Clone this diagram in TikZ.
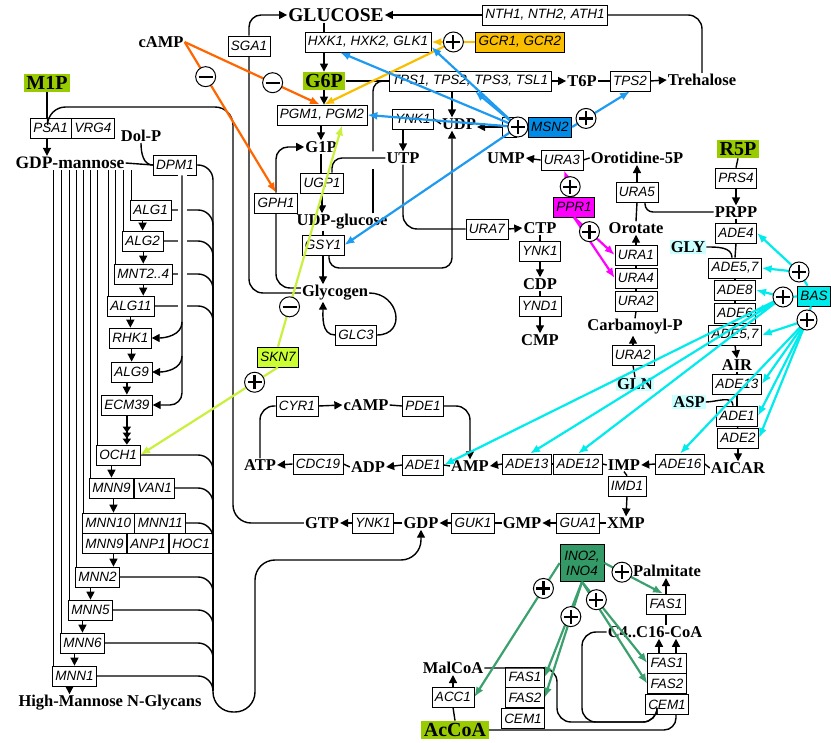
\documentclass[tikz,border=0pt]{standalone}
\usepackage{fontspec}
\setmainfont{Liberation Serif}
\newfontfamily\enzfont{Liberation Sans}
\usetikzlibrary{arrows.meta,positioning,calc}
\definecolor{keygreen}{RGB}{153,204,0}
\definecolor{gcryellow}{RGB}{250,190,0}
\definecolor{msnblue}{RGB}{0,140,230}
\definecolor{msnline}{RGB}{30,155,240}
\definecolor{camporange}{RGB}{255,102,0}
\definecolor{sknlime}{RGB}{204,255,51}
\definecolor{sknline}{RGB}{200,240,60}
\definecolor{pprmag}{RGB}{255,0,255}
\definecolor{bascyan}{RGB}{0,235,235}
\definecolor{aacyan}{RGB}{204,255,255}
\definecolor{inogreen}{RGB}{51,153,102}
\definecolor{inoline}{RGB}{60,160,110}
\tikzset{
  >={Triangle[length=8pt,width=8pt]},
  rx/.style={line width=1.4pt},
  enz/.style={draw,fill=white,line width=0.7pt,inner xsep=3pt,inner ysep=0pt,
    minimum height=20pt,font=\fontsize{13.5}{15}\enzfont\itshape},
  met/.style={inner sep=1pt,font=\fontsize{16.5}{18}\selectfont\bfseries},
  key/.style={fill=keygreen,inner sep=2.5pt,font=\fontsize{20}{22}\selectfont\bfseries},
  aa/.style={met,fill=aacyan},
  tf/.style={enz,fill=#1},
  reg/.style={line width=2.2pt,draw=#1,-{Latex[length=10pt,width=8pt]}},
  act/.style={circle,draw,fill=white,line width=1pt,minimum size=20pt,inner sep=0pt,
    path picture={\draw[line width=2.2pt]
      ([xshift=-7pt]path picture bounding box.center) -- ([xshift=7pt]path picture bounding box.center)
      ([yshift=-7pt]path picture bounding box.center) -- ([yshift=7pt]path picture bounding box.center);}},
  inh/.style={circle,draw,fill=white,line width=1pt,minimum size=20pt,inner sep=0pt,
    path picture={\draw[line width=2.2pt]
      ([xshift=-7pt]path picture bounding box.center) -- ([xshift=7pt]path picture bounding box.center);}},
}
\begin{document}
\begin{tikzpicture}[x=1pt,y=-1pt]
\useasboundingbox (0,0) rectangle (831,743);

% carbohydrates
\node[met,font=\fontsize{19.5}{21}\selectfont\bfseries] (glucose) at (336,15) {GLUCOSE};
\node[enz] (nth) at (545,15) {NTH1, NTH2, ATH1};
\node[enz] (hxk) at (368,42) {HXK1, HXK2, GLK1};
\node[tf=gcryellow] (gcr) at (520,42) {GCR1, GCR2};
\node[met] (camp1) at (161,42) {cAMP};
\node[enz] (sga1) at (249,46) {SGA1};
\node[key] (g6p) at (324,81) {G6P};
\node[enz] (tps) at (470,81) {TPS1, TPS2, TPS3, TSL1};
\node[met] (t6p) at (582,81) {T6P};
\node[enz] (tps2) at (630,81) {TPS2};
\node[met] (trehalose) at (702,80) {Trehalose};
\node[enz] (pgm) at (322,115) {PGM1, PGM2};
\node[met] (g1p) at (321,147) {G1P};
\node[enz] (ugp1) at (322,183) {UGP1};
\node[enz] (gph1) at (276,203) {GPH1};
\node[met] (udpglc) at (342,222) {UDP-glucose};
\node[enz] (gsy1) at (323,245) {GSY1};
\node[met] (glycogen) at (335,293) {Glycogen};
\node[enz] (glc3) at (356,335) {GLC3};

% pyrimidines
\node[enz] (ynk1a) at (413,119) {YNK1};
\node[met] (udp) at (459,124) {UDP};
\node[met] (utp) at (403,158) {UTP};
\node[enz,minimum width=14pt] (ura6) at (509,127) {};
\node[tf=msnblue] (msn2) at (550,127) {MSN2};
\node[met] (ump) at (506,158) {UMP};
\node[enz] (ura3) at (562,160) {URA3};
\node[met] (orotidine) at (637,158) {Orotidine-5P};
\node[enz] (ura7) at (487,229) {URA7};
\node[met] (ctp) at (540,228) {CTP};
\node[enz] (ynk1b) at (540,251) {YNK1};
\node[met] (cdp) at (540,284) {CDP};
\node[enz] (ynd1) at (540,306) {YND1};
\node[met] (cmp) at (540,340) {CMP};
\node[tf=pprmag] (ppr1) at (574,207) {PPR1};
\node[enz] (ura5) at (637,192) {URA5};
\node[met] (orotate) at (636,228) {Orotate};
\node[enz] (ura1) at (636,255) {URA1};
\node[enz] (ura4) at (636,278) {URA4};
\node[enz] (ura2a) at (636,301) {URA2};
\node[met] (carbp) at (635,327) {Carbamoyl-P};
\node[enz] (ura2b) at (633,355) {URA2};
\node[aa] (gln) at (635,384) {GLN};

% purines
\node[key] (r5p) at (738,149) {R5P};
\node[enz] (prs4) at (736,178) {PRS4};
\node[met] (prpp) at (736,212) {PRPP};
\node[enz] (ade4) at (736,233) {ADE4};
\node[aa] (gly) at (688,247) {GLY};
\node[enz] (ade57a) at (735,268) {ADE5,7};
\node[enz] (ade8) at (735,290) {ADE8};
\node[enz] (ade6) at (735,313) {ADE6};
\node[enz] (ade57b) at (735,335) {ADE5,7};
\node[met] (air) at (737,365) {AIR};
\node[enz] (ade13a) at (737,384) {ADE13};
\node[aa] (asp) at (689,402) {ASP};
\node[enz] (ade1a) at (737,416) {ADE1};
\node[enz] (ade2) at (738,438) {ADE2};
\node[met] (aicar) at (738,468) {AICAR};
\node[tf=bascyan] (bas) at (814,296) {BAS};
\node[enz] (ade16) at (680,464) {ADE16};
\node[met] (imp) at (624,465) {IMP};
\node[enz] (ade12) at (578,464) {ADE12};
\node[enz] (ade13b) at (527,464) {ADE13};
\node[met] (amp) at (470,466) {AMP};
\node[enz] (ade1b) at (423,465) {ADE1};
\node[met] (adp) at (368,467) {ADP};
\node[enz] (cdc19) at (318,464) {CDC19};
\node[met] (atp) at (260,465) {ATP};
\node[enz] (cyr1) at (297,406) {CYR1};
\node[met] (camp2) at (366,405) {cAMP};
\node[enz] (pde1) at (423,406) {PDE1};
\node[enz] (imd1) at (627,486) {IMD1};
\node[met] (xmp) at (626,523) {XMP};
\node[enz] (gua1) at (578,523) {GUA1};
\node[met] (gmp) at (522,523) {GMP};
\node[enz] (guk1) at (473,523) {GUK1};
\node[met] (gdp) at (421,523) {GDP};
\node[enz] (ynk1c) at (373,523) {YNK1};
\node[met] (gtp) at (322,523) {GTP};
\node[tf=sknlime] (skn7) at (278,357) {SKN7};

% mannosylation
\node[key] (m1p) at (47,83) {M1P};
\node[enz,anchor=north west] (psa1) at (30,118) {PSA1};
\node[enz,anchor=west] (vrg4) at (psa1.east) {VRG4};
\node[met,font=\fontsize{17.5}{19}\selectfont\bfseries] (gdpman) at (70,163) {GDP-mannose};
\node[met] (dolp) at (141,136) {Dol-P};
\node[enz] (dpm1) at (175,165) {DPM1};
\node[enz,anchor=west] (alg1) at (130,210) {ALG1};
\node[enz,anchor=west] (alg2) at (122,241) {ALG2};
\node[enz,anchor=west] (mnt) at (114,274) {MNT2..4};
\node[enz,anchor=west] (alg11) at (107,306) {ALG11};
\node[enz,anchor=west] (rhk1) at (109,338) {RHK1};
\node[enz,anchor=west] (alg9) at (111,372) {ALG9};
\node[enz,anchor=west] (ecm39) at (101,405) {ECM39};
\node[enz,anchor=west] (och1) at (96,455) {OCH1};
\node[enz,anchor=west] (mnn9a) at (89,488) {MNN9};
\node[enz,anchor=west] (van1) at (mnn9a.east) {VAN1};
\node[enz,anchor=west] (mnn10) at (82,523) {MNN10};
\node[enz,anchor=west] (mnn11) at (mnn10.east) {MNN11};
\node[enz,anchor=north west] (mnn9b) at (mnn10.south west) {MNN9};
\node[enz,anchor=west] (anp1) at (mnn9b.east) {ANP1};
\node[enz,anchor=west] (hoc1) at (anp1.east) {HOC1};
\node[enz,anchor=west] (mnn2) at (75,577) {MNN2};
\node[enz,anchor=west] (mnn5) at (68,610) {MNN5};
\node[enz,anchor=west] (mnn6) at (60,643) {MNN6};
\node[enz,anchor=west] (mnn1) at (52,676) {MNN1};
\node[met] (hmng) at (110,703) {High-Mannose N-Glycans};

% fatty acids
\node[tf=inogreen,align=center,minimum height=37pt,minimum width=44pt] (ino) at (582,563) {INO2,\\INO4};
\node[met] (palm) at (667,571) {Palmitate};
\node[enz] (fas1a) at (666,604) {FAS1};
\node[met] (c16coa) at (655,632) {C4..C16-CoA};
\node[enz] (fas1b) at (667,663) {FAS1};
\node[enz,anchor=north] (fas2b) at (fas1b.south) {FAS2};
\node[enz,anchor=north] (cem1b) at (fas2b.south) {CEM1};
\node[met] (malcoa) at (453,668) {MalCoA};
\node[enz] (acc1) at (453,697) {ACC1};
\node[key] (accoa) at (455,730) {AcCoA};
\node[enz] (fas1c) at (525,677) {FAS1};
\node[enz,anchor=north] (fas2c) at (fas1c.south) {FAS2};
\node[enz,anchor=north] (cem1c) at ([xshift=-2pt]fas2c.south) {CEM1};

% glucose, trehalose, glycogen
\draw[rx] (glucose.south -| g6p) -- (hxk.north -| g6p);
\draw[rx,->] (hxk.south -| g6p) -- (g6p.north);
\draw[rx,->] (g6p.south) -- (pgm.north -| g6p);
\draw[rx,->] (pgm.south -| g1p) -- (g1p.north);
\draw[rx] (g1p.south) -- (ugp1.north -| g1p);
\draw[rx,->] (ugp1.south) -- (ugp1.south |- udpglc.north);
\draw[rx] (gsy1.north |- udpglc.south) -- (gsy1.north);
\draw[rx,->] (gsy1.south) -- (gsy1.south |- glycogen.north);
\draw[rx] (g6p.east) -- (tps.west);
\draw[rx,->] (tps.east) -- (t6p.west);
\draw[rx] (t6p.east) -- (tps2.west);
\draw[rx,->] (tps2.east) -- (trehalose.west);
\draw[rx,rounded corners=14pt] (trehalose.north) |- (nth.east);
\draw[rx,->] (nth.west) -- (glucose.east);
\draw[rx] ([xshift=31pt]udpglc.north) -- ++(0,-44);
\draw[rx,rounded corners=10pt] ([xshift=31pt]udpglc.north) ++(0,-62) |- (tps.west);
\draw[rx,rounded corners=10pt] (utp.west) -| ([xshift=10pt]ugp1.north);
\draw[rx,rounded corners=14pt] (glycogen.west) -| (sga1.south);
\draw[rx,->,rounded corners=12pt] (sga1.north) |- (glucose.west);
\draw[rx,rounded corners=14pt] ([yshift=5pt]glycogen.west) -| (gph1.south);
\draw[rx,->,rounded corners=12pt] (gph1.north) |- (g1p.west);
\draw[rx] (glycogen.east) to[out=0,in=0,looseness=1.8] (glc3.east);
\draw[rx,->] (glc3.west) to[out=180,in=-90] ([xshift=-12pt]glycogen.south);

% pyrimidines
\coordinate (udpin) at (452,268);
\draw[rx,->] ([xshift=-7pt]udp.north |- tps.south) -- ([xshift=-7pt]udp.north);
\draw[rx,->,rounded corners=10pt] ([xshift=6pt]gsy1.south) |- (udpin) -- ([xshift=-7pt]udp.south);
\draw[rx] (udp.west) -- (ynk1a.east);
\draw[rx,->] (utp.north |- ynk1a.south) -- (utp.north);
\draw[rx,rounded corners=14pt] (utp.south) |- (ura7.west);
\draw[rx,->] (ura7.east) -- (ctp.west);
\draw[rx] (ctp.south) -- (ynk1b.north);
\draw[rx,->] (ynk1b.south) -- (cdp.north);
\draw[rx] (cdp.south) -- (ynd1.north);
\draw[rx,->] (ynd1.south) -- (cmp.north);
\draw[rx,->] (ura6.west) -- (ura6.west -| udp.east);
\draw[rx,->] (ura3.west) -- (ump.east);
\draw[rx] (orotidine.west) -- (ura3.east);
\draw[rx,->] (ura5.north) -- (orotidine.south);
\draw[rx] (orotate.north) -- (ura5.south);
\draw[rx,rounded corners=8pt] (prpp.west) -| ([xshift=8pt]ura5.south);
\draw[rx,->] (ura1.north) -- (orotate.south);
\draw[rx] (ura1.south) -- (ura4.north);
\draw[rx] (ura4.south) -- (ura2a.north);
\draw[rx] (ura2a.south) -- (carbp.north);
\draw[rx,->] (ura2b.north) -- (ura2b.north |- carbp.south);
\draw[rx] (gln.north) -- (ura2b.south);

% purines
\draw[rx] (r5p.south) -- (prs4.north);
\draw[rx,->] (prs4.south) -- (prpp.north);
\draw[rx] (prpp.south) -- (ade4.north);
\draw[rx] (ade4.south) -- (ade57a.north);
\draw[rx] (ade57a.south) -- (ade8.north);
\draw[rx] (ade8.south) -- (ade6.north);
\draw[rx] (ade6.south) -- (ade57b.north);
\draw[rx,->] (ade57b.south) -- (air.north);
\draw[rx] (air.south) -- (ade13a.north);
\draw[rx] (ade13a.south) -- (ade1a.north);
\draw[rx] (ade1a.south) -- (ade2.north);
\draw[rx,->] (ade2.south) -- (aicar.north);
\draw[rx] (gly.east) to[out=0,in=90] ([xshift=-3pt]ade57a.north);
\draw[rx] (asp.east) to[out=0,in=90] ([xshift=-4pt]ade1a.north);
\draw[rx] (aicar.west) -- (ade16.east);
\draw[rx,->] (ade16.west) -- (imp.east);
\draw[rx] (imp.west) -- (ade12.east);
\draw[rx] (ade12.west) -- (ade13b.east);
\draw[rx,->] (ade13b.west) -- (amp.east);
\draw[rx] (amp.west) -- (ade1b.east);
\draw[rx,->] (ade1b.west) -- (adp.east);
\draw[rx] (adp.west) -- (cdc19.east);
\draw[rx,->] (cdc19.west) -- (atp.east);
\draw[rx,rounded corners=14pt] (atp.north) |- (cyr1.west);
\draw[rx,->] (cyr1.east) -- (camp2.west);
\draw[rx] (camp2.east) -- (pde1.west);
\draw[rx,->,rounded corners=14pt] (pde1.east) -| (amp.north);
\draw[rx] (imp.south) -- (imd1.north);
\draw[rx,->] (imd1.south) -- (xmp.north);
\draw[rx] (xmp.west) -- (gua1.east);
\draw[rx,->] (gua1.west) -- (gmp.east);
\draw[rx] (gmp.west) -- (guk1.east);
\draw[rx,->] (guk1.west) -- (gdp.east);
\draw[rx] (gdp.west) -- (ynk1c.east);
\draw[rx,->] (ynk1c.west) -- (gtp.east);

% mannosylation
\coordinate (gtpturn) at (233,107);
\draw[rx,rounded corners=18pt] (gtp.west) -| (gtpturn) -| ([xshift=-3pt]psa1.north);
\draw[rx] (m1p.south) -- (m1p.south |- psa1.north);
\draw[rx,->] (m1p.south |- psa1.south) -- (m1p.south |- gdpman.north);
\draw[rx] (gdpman.east) -- (dpm1.west);
\draw[rx] (dolp.south) to[out=-90,in=180] (dpm1.west);
\foreach \b in {alg1,alg2,mnt,alg11,och1,mnn9a,mnn10,mnn2,mnn5,mnn6,mnn1}
  \draw[rx] ([xshift=1.5pt]\b.north west |- gdpman.south) -- ([xshift=1.5pt]\b.north west);
\draw[rx,->] (alg1.south -| alg2) -- (alg2.north);
\draw[rx,->] (alg2.south -| mnt) -- (mnt.north);
\draw[rx,->] (mnt.south) -- (mnt.south |- alg11.north);
\draw[rx,->] (alg11.south -| rhk1) -- (rhk1.north);
\draw[rx,->] (rhk1.south -| alg9) -- (alg9.north);
\draw[rx,->] (alg9.south -| ecm39) -- (ecm39.north);
\draw[rx,-{Triangle[length=6pt,width=8pt] Triangle[length=6pt,width=8pt] Triangle[length=6pt,width=8pt]}]
  (ecm39.south) -- (ecm39.south |- och1.north);
\draw[rx,->] (och1.south -| mnn9a) -- (mnn9a.north);
\draw[rx,->] ([xshift=2pt]mnn9a.south) -- ([xshift=2pt]mnn9a.south |- mnn10.north);
\draw[rx,->] ([xshift=9pt]mnn9b.south) -- ([xshift=9pt]mnn9b.south |- mnn2.north);
\draw[rx,->] (mnn2.south -| mnn5) -- (mnn5.north);
\draw[rx,->] (mnn5.south -| mnn6) -- (mnn6.north);
\draw[rx,->] (mnn6.south -| mnn1) -- (mnn1.north);
\draw[rx,->] ([xshift=-5pt]mnn1.south) -- ([xshift=-5pt]mnn1.south |- hmng.north);
\coordinate (gdpbus) at (213,690);
\coordinate (gdpturn) at (255,712);
\coordinate (gdpup) at (255,560);
\foreach \b in {dpm1,alg1,alg2,mnt,alg11,och1,van1,mnn11,mnn2,mnn5,mnn6,mnn1}
  \draw[rx,rounded corners=15pt] (\b.east) -| (gdpbus);
\draw[rx,->,rounded corners=20pt] (gdpbus) |- (gdpturn) -- (gdpup) -| (gdp.south);
\draw[white,line width=9pt] ([xshift=7pt]dpm1.south) -- ([xshift=7pt]dpm1.south |- rhk1.north);
\draw[rx,->,rounded corners=12pt] ([xshift=7pt]dpm1.south) |- (ecm39.east);
\draw[rx,->] ([xshift=7pt,yshift=16pt]dpm1.south |- rhk1.east) to[out=-90,in=0] (rhk1.east);
\draw[rx,->] ([xshift=7pt,yshift=16pt]dpm1.south |- alg9.east) to[out=-90,in=0] (alg9.east);

% fatty acids
\coordinate (elbl) at (582,722);
\coordinate (mcbl) at (557,722);
\draw[rx] (accoa.north) -- (acc1.south);
\draw[rx,->] (acc1.north) -- (malcoa.south);
\draw[rx,->] (fas1a.north) -- (fas1a.north |- palm.south);
\draw[rx] (c16coa.north -| fas1a) -- (fas1a.south);
\draw[rx,->] ([xshift=-8pt]fas1b.north) -- ([xshift=-8pt]fas1b.north |- c16coa.south);
\draw[rx,->] ([xshift=9pt]fas1b.north) -- ([xshift=9pt]fas1b.north |- c16coa.south);
\draw[rx,rounded corners=14pt] (c16coa.west) -| (elbl) -| ([xshift=-10pt]cem1b.south);
\draw[rx,rounded corners=14pt] (malcoa.east) -| (mcbl) -| ([xshift=-10pt]cem1b.south);
\draw[rx,rounded corners=12pt] (accoa.east) -| ([xshift=9pt]cem1b.south);

% regulation
\coordinate (mCampA) at ($(camp1.east)!0.23!(gph1.north)$);
\coordinate (mCampB) at ($(camp1.east)!0.65!([xshift=-2pt]pgm.north)$);
\draw[reg=camporange] (camp1.east) -- (gph1.north);
\draw[reg=camporange] (camp1.east) -- ([xshift=-2pt]pgm.north);
\coordinate (pGcr) at ($(gcr.west)!0.5!(hxk.east)$);
\draw[reg=gcryellow] (gcr.west) -- (hxk.east);
\draw[reg=gcryellow] (pGcr) -- ([xshift=2pt]pgm.north);
\coordinate (pMsn) at ([xshift=-10pt]msn2.west);
\coordinate (pMsnB) at ($(msn2.east)!0.24!(tps2.south)$);
\draw[reg=msnline] (pMsn) -- ([xshift=-28pt]hxk.south);
\draw[reg=msnline] (pMsn) -- ([yshift=-5pt]hxk.east);
\draw[reg=msnline] (pMsn) -- ([xshift=5pt]tps.south);
\draw[reg=msnline] (pMsn) -- (pgm.east);
\draw[reg=msnline] (pMsn) -- (gsy1.east);
\draw[reg=msnline] (msn2.east) -- (tps2.south);
\coordinate (pPprA) at ($(ppr1.north)!0.38!([xshift=2pt]ura3.south)$);
\coordinate (pPprB) at ($(ppr1.south)!0.38!(ura1.west)$);
\draw[reg=pprmag] (ppr1.north) -- ([xshift=2pt]ura3.south);
\draw[reg=pprmag] (ppr1.south) -- (ura1.west);
\draw[reg=pprmag] (ppr1.south) -- (ura4.west);
\coordinate (mSkn) at ($(skn7.north)!0.18!([xshift=20pt]pgm.south)$);
\coordinate (pSkn) at ($(skn7.south)!0.17!(och1.east)$);
\draw[reg=sknline] (skn7.north) -- ([xshift=20pt]pgm.south);
\draw[reg=sknline] (skn7.south) -- (och1.east);
\coordinate (pBasA) at (799,272);
\coordinate (pBasB) at (783,297);
\coordinate (pBasC) at (807,320);
\draw[reg=bascyan,-] (bas) -- (pBasA);
\draw[reg=bascyan,-] (bas) -- (pBasB);
\draw[reg=bascyan,-] (bas) -- (pBasC);
\draw[reg=bascyan] (pBasA) -- (ade4.east);
\draw[reg=bascyan] (pBasA) -- (ade57a.east);
\draw[reg=bascyan] (pBasB) -- (ade8.east);
\draw[reg=bascyan] (pBasB) -- (ade6.east);
\draw[reg=bascyan] (pBasB) -- (ade1b.east);
\draw[reg=bascyan] (pBasB) -- ([xshift=3pt]ade13b.north);
\draw[reg=bascyan] (pBasB) -- (ade12.north);
\draw[reg=bascyan] (pBasC) -- (ade57b.east);
\draw[reg=bascyan] (pBasC) -- (ade13a.east);
\draw[reg=bascyan] (pBasC) -- (ade1a.east);
\draw[reg=bascyan] (pBasC) -- (ade2.east);
\draw[reg=bascyan] (pBasC) -- (ade16.north);
\coordinate (pInoA) at ($(ino.west)!0.19!(acc1.east)$);
\coordinate (pInoB) at ($(ino.south)!0.3!(fas2c.east)$);
\coordinate (pInoC) at ($(ino.south)!0.22!(fas1b.west)$);
\coordinate (pInoD) at ($(ino.east)!0.3!([xshift=-3pt]fas1a.north)$);
\draw[reg=inoline] (ino.west) -- (acc1.east);
\draw[reg=inoline] (ino.south) -- (fas1c.east);
\draw[reg=inoline] (ino.south) -- (fas2c.east);
\draw[reg=inoline] (ino.south) -- (fas1b.west);
\draw[reg=inoline] (ino.south) -- (fas2b.west);
\draw[reg=inoline] (ino.east) -- ([xshift=-3pt]fas1a.north);

% signs
\node[inh] at (mCampA) {};
\node[inh] at (mCampB) {};
\node[act] at (pGcr) {};
\node[act] at (pMsn) {};
\node[act] at (pMsnB) {};
\node[act] at (pPprA) {};
\node[act] at (pPprB) {};
\node[inh] at (mSkn) {};
\node[act] at (pSkn) {};
\node[act] at (pBasA) {};
\node[act] at (pBasB) {};
\node[act] at (pBasC) {};
\node[act] at (pInoA) {};
\node[act] at (pInoB) {};
\node[act] at (pInoC) {};
\node[act] at (pInoD) {};
\end{tikzpicture}
\end{document}
